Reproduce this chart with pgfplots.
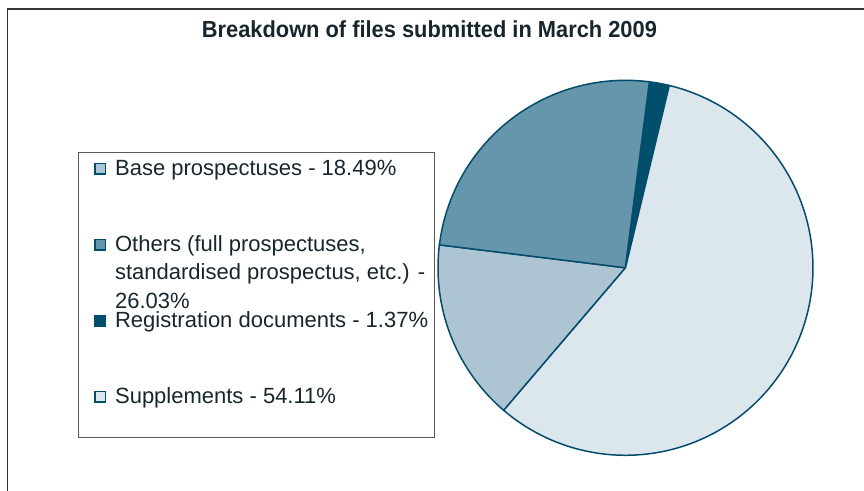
\documentclass[border=0pt]{standalone}
\usepackage{pgfplots}
\pgfplotsset{compat=1.18}
\usepackage{fontspec}
\setmainfont{Liberation Sans}

\definecolor{edge}{HTML}{044C6C}
\definecolor{cReg}{HTML}{024E6D}
\definecolor{cOth}{HTML}{6596AC}
\definecolor{cBase}{HTML}{ADC5D2}
\definecolor{cSup}{HTML}{DCE6ED}
\definecolor{txt}{HTML}{17262D}

% slice sizes (percent of the circle, as drawn), counter-clockwise from 76.5 deg
\def\vReg{1.7}
\def\vOth{25.1}
\def\vBase{15.7}
\def\vSup{57.5}
\pgfmathsetmacro\aA{76.5}
\pgfmathsetmacro\aB{\aA+3.6*\vReg}
\pgfmathsetmacro\aC{\aB+3.6*\vOth}
\pgfmathsetmacro\aD{\aC+3.6*\vBase}
\pgfmathsetmacro\aE{\aD+3.6*\vSup}

\begin{document}
\begin{tikzpicture}
\path[use as bounding box] (0,0) rectangle (432pt,245.5pt);
% frame
\draw[line width=0.8pt, black!80] (3.75pt,0) -- (3.75pt,241pt) -- (432pt,241pt);
% title
\node[anchor=base, inner sep=0pt, text=txt] at (214.7pt,226.75pt)
  {\resizebox{227.5pt}{\height}{\fontsize{11.6}{14}\selectfont\bfseries Breakdown of files submitted in March 2009}};
% legend box
\draw[line width=0.5pt, black!65] (39.15pt,26.65pt) rectangle (217.15pt,169.15pt);

\begin{axis}[
  at={(312.75pt,111.6pt)}, anchor=center,
  scale only axis, width=187.5pt, height=187.5pt,
  xmin=-1, xmax=1, ymin=-1, ymax=1,
  hide axis, clip=false,
  legend cell align=left,
  legend image code/.code={\draw[#1, line width=0.75pt] (0.3pt,-3.2pt) rectangle (5.5pt,2.0pt);},
  legend style={
    at={(-0.91733,0.79013)}, anchor=north west,
    draw=none, fill=none, inner sep=0pt,
    row sep=30pt, column sep=4.4pt,
    font=\fontsize{11}{14.25}\selectfont, text=txt,
    nodes={inner sep=0pt, text height=8pt, text depth=0pt},
  },
]
\addplot[fill=cBase, draw=edge, line width=0.75pt, domain=\aC:\aD, samples=60, variable=\t]
  ({cos(\t)},{sin(\t)}) -- (axis cs:0,0) -- cycle;
\addlegendentry{Base prospectuses - 18.49\%}
\addplot[fill=cOth, draw=edge, line width=0.75pt, domain=\aB:\aC, samples=60, variable=\t]
  ({cos(\t)},{sin(\t)}) -- (axis cs:0,0) -- cycle;
\addlegendentry{\parbox[t]{170pt}{Others (full prospectuses,\\standardised prospectus, etc.) -\\26.03\%}}
\addplot[fill=cReg, draw=edge, line width=0.75pt, domain=\aA:\aB, samples=10, variable=\t]
  ({cos(\t)},{sin(\t)}) -- (axis cs:0,0) -- cycle;
\addlegendentry{Registration documents - 1.37\%}
\addplot[fill=cSup, draw=edge, line width=0.75pt, domain=\aD:\aE, samples=120, variable=\t]
  ({cos(\t)},{sin(\t)}) -- (axis cs:0,0) -- cycle;
\addlegendentry{Supplements - 54.11\%}
\end{axis}
\end{tikzpicture}
\end{document}
